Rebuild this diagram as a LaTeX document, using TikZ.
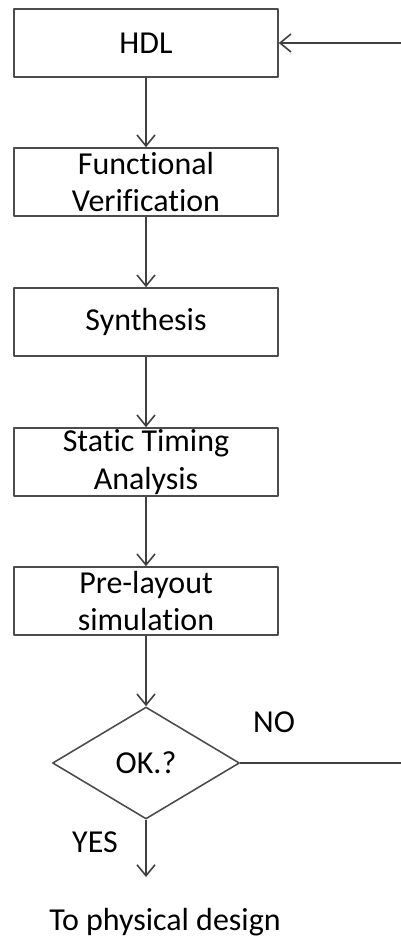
\documentclass[tikz,border=0pt]{standalone}
\usepackage{fontspec}
\setmainfont[Ligatures=NoCommon]{Carlito}
\usepackage{tikz}
\usetikzlibrary{arrows.meta,shapes.geometric}

\begin{document}
\begin{tikzpicture}[x=0.02cm,y=-0.02cm,>={Straight Barb[length=2.2mm,width=3.6mm]},line join=round,
  font=\fontsize{18.2}{21.5}\selectfont,
  stage/.style={draw=black!70,line width=0.9pt,minimum width=5.28cm,minimum height=1.36cm,inner sep=0pt,align=center},
  flow/.style={->,draw=black!75,line width=0.9pt}]
\useasboundingbox (0,0) rectangle (401,936);
% --- design stages
\node[stage] (hdl) at (146,43) {HDL};
\node[stage] (fv) at (146,182) {Functional\\Verification};
\node[stage] (syn) at (146,322) {Synthesis};
\node[stage] (sta) at (146,462) {Static Timing\\Analysis};
\node[stage] (pls) at (146,601) {Pre-layout\\simulation};
% --- decision
\node[diamond,draw=black!70,line width=0.9pt,minimum width=3.74cm,minimum height=2.24cm,inner sep=0pt] (ok) at (146,763) {OK.?};
\node (out) at (165,922) {To physical design};
\coordinate (end) at (146,877);
\coordinate (ret) at (406,763);
% connectors
\draw[flow] (hdl) -- (fv);
\draw[flow] (fv) -- (syn);
\draw[flow] (syn) -- (sta);
\draw[flow] (sta) -- (pls);
\draw[flow] (pls) -- (ok);
\draw[flow] (ok) -- (end);
\draw[flow] (ok.east) -- (ret) |- (hdl.east);
% labels
\node at (274,722) {NO};
\node at (95,842) {YES};
\end{tikzpicture}
\end{document}
